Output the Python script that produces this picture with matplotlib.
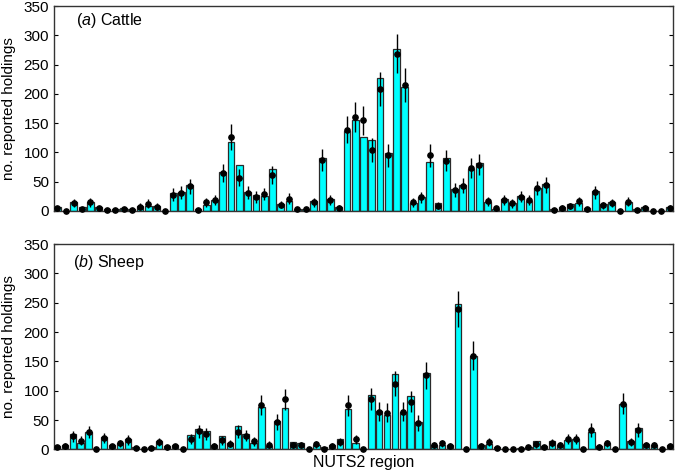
import numpy as np
import matplotlib
matplotlib.use('Agg')
import matplotlib.pyplot as plt

plt.rcParams['font.family'] = ['Liberation Sans', 'DejaVu Sans']
plt.rcParams['mathtext.fontset'] = 'custom'
plt.rcParams['mathtext.rm'] = 'Liberation Sans'
plt.rcParams['mathtext.it'] = 'Liberation Sans:italic'

# Cattle: reported holdings (bars), model mean (dots) and error half-width
cattle_obs = [7.4, 0, 15, 7.4, 14.8, 7.4, 3.4, 2.8, 5, 3.4, 9, 9, 9, 0, 31, 33, 43.7, 3.4, 10, 18.7,
              66, 118, 78, 33, 27, 26, 71.6, 12, 17, 4, 4, 16.5, 90, 20, 7.4, 136, 155, 126, 122, 227,
              99, 276, 211, 14, 24.4, 84, 13, 90, 37, 43.7, 71, 82, 15.3, 4, 21, 14, 25, 17.6, 39, 46,
              3.4, 6, 12.5, 14, 4.5, 34, 11.4, 15.3, 0, 14.8, 3.4, 6, 0, 0, 7.4]
cattle_mod = [4.5, 0, 13.6, 3.4, 14.8, 4.5, 1.7, 1.1, 2.8, 1.1, 7.4, 12.5, 7.4, 0, 28, 31, 42, 2.3, 15, 18,
              65, 126, 57, 31, 24, 29, 61, 11, 21, 2.8, 2.8, 15, 87, 18, 5, 139, 161, 155, 105, 209,
              95, 269, 215, 15, 23, 95, 9, 86, 36, 43, 73, 79, 16.5, 4.5, 19, 13, 24.4, 18, 39, 44,
              1.1, 5, 8.5, 16.5, 3.4, 32, 9.7, 13.6, 0, 16, 2.3, 5.7, 0, 0, 5.7]
cattle_err = [4.2, 0, 7.4, 3.7, 7.7, 4.2, 2.6, 2.1, 3.3, 2.1, 5.4, 7.1, 5.4, 0, 10.6, 11.1, 13, 3, 7.7, 8.5,
              16.1, 22.4, 15.1, 11.1, 9.8, 10.8, 15.6, 6.6, 9.2, 3.3, 3.3, 7.7, 18.7, 8.5, 4.5, 23.6, 25.4, 24.9, 20.5, 28.9,
              19.5, 32.8, 29.3, 7.7, 9.6, 19.5, 6, 18.5, 12, 13.1, 17.1, 17.8, 8.1, 4.2, 8.7, 7.2, 9.9, 8.5, 12.5, 13.3,
              2.1, 4.5, 5.8, 8.1, 3.7, 11.3, 6.2, 7.4, 0, 8, 3, 4.8, 0, 0, 4.8]

# Sheep
sheep_obs = [5.7, 8, 27, 11.4, 30, 1, 20.5, 7, 11.4, 17, 3.4, 0.5, 3.4, 14, 5, 7, 0, 24.4, 35, 30.7,
             8, 22.7, 11.4, 40, 25.6, 11.4, 73, 6, 49, 70, 12, 10, 0, 7, 3.4, 7, 17, 68, 11, 0,
             93, 65, 58.5, 128, 64, 91, 47, 131, 8, 7, 7, 247, 0, 158.5, 7, 8.5, 4, 1, 0, 2,
             4.5, 14, 5.7, 15, 8, 16, 17.6, 0, 29, 5.7, 11, 0, 78, 14, 37, 8.5, 8, 0, 7]
sheep_mod = [4, 6, 22, 15, 29.5, 0, 19, 5, 10, 16, 1.7, 0, 1.7, 12.5, 3.4, 5, 0, 17.6, 31, 26.7,
             5.7, 15.3, 9.7, 30, 23.6, 13.6, 76, 8, 46, 85, 7, 7, 0, 9, 1, 5.7, 12.5, 75, 17, 0,
             86, 64, 62.5, 112, 64, 81, 45, 126, 7, 10, 6, 239, 0, 160, 5.7, 12.5, 2, 0, 0, 1,
             4, 9, 4, 11, 7, 17.6, 18, 0, 33, 4.5, 10, 0, 78, 12, 33, 7, 7, 0, 5.7]
sheep_err = [4, 4.9, 9.4, 7.7, 10.9, 0, 8.7, 4.5, 6.3, 8, 2.6, 0, 2.6, 7.1, 3.7, 4.5, 0, 8.4, 11.1, 10.3,
             4.8, 7.8, 6.2, 11, 9.7, 7.4, 17.4, 5.7, 13.6, 18.4, 5.3, 5.3, 0, 6, 2, 4.8, 7.1, 17.3, 8.2, 0,
             18.5, 16, 15.8, 21.2, 16, 18, 13.4, 22.4, 5.3, 6.3, 4.9, 30.9, 0, 25.3, 4.8, 7.1, 2.8, 0, 0, 2,
             4, 6, 4, 6.6, 5.3, 8.4, 8.5, 0, 11.5, 4.2, 6.3, 0, 17.7, 6.9, 11.5, 5.3, 5.3, 0, 4.8]

panels = [('a', 'Cattle', cattle_obs, cattle_mod, cattle_err),
          ('b', 'Sheep', sheep_obs, sheep_mod, sheep_err)]

fig = plt.figure(figsize=(6.75, 4.73), dpi=100)
boxes = [[0.080, 0.554, 0.917, 0.433], [0.080, 0.050, 0.917, 0.434]]

for box, (letter, name, obs, mod, err) in zip(boxes, panels):
    ax = fig.add_axes(box)
    x = np.arange(1, len(obs) + 1)
    ax.bar(x, obs, width=0.82, color='#00ffff', edgecolor='#2a2a2a', linewidth=0.9, zorder=2)
    ax.errorbar(x, mod, yerr=err, fmt='o', color='black', markersize=3.8,
                elinewidth=1, capsize=0, zorder=3, clip_on=False)
    ax.set_xlim(0.6, len(obs) + 0.4)
    ax.set_ylim(0, 350)
    ax.set_yticks(range(0, 351, 50))
    ax.set_xticks([])
    ax.tick_params(axis='y', direction='in', right=True, length=3, labelsize=11)
    for s in ax.spines.values():
        s.set_color('#333333')
        s.set_linewidth(1)
    ax.set_ylabel('no. reported holdings', fontsize=11)
    ax.yaxis.set_label_coords(-0.062, 0.5)
    ax.text(0.036 if letter == 'a' else 0.031, 0.93 if letter == 'a' else 0.912,
            r'($\mathit{' + letter + '}$) ' + name, transform=ax.transAxes,
            fontsize=11.5, va='center', ha='left')
    if letter == 'b':
        ax.set_xlabel('NUTS2 region', fontsize=11.5, labelpad=4)

fig.savefig('out.png', dpi=100)
